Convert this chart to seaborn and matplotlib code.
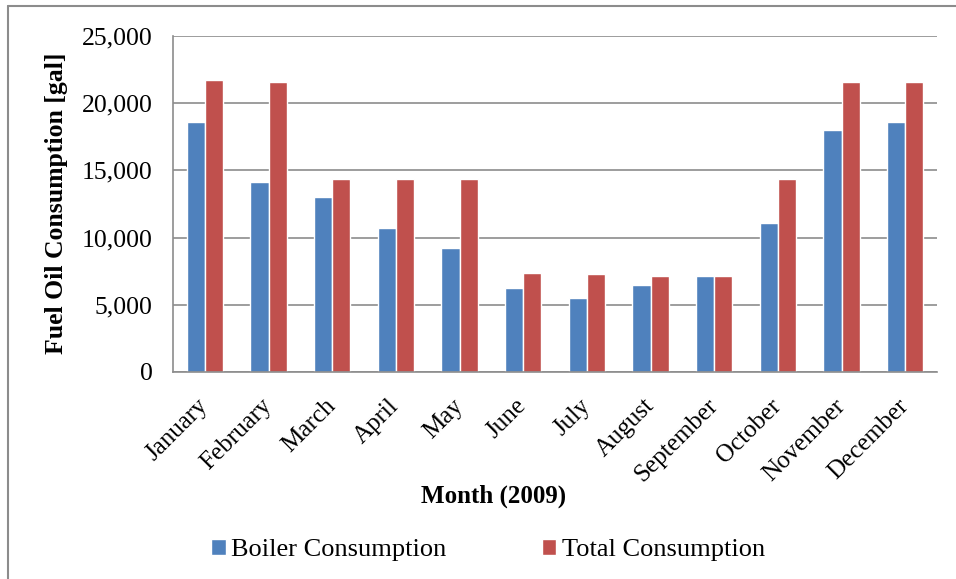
import matplotlib
matplotlib.use("Agg")
import matplotlib.pyplot as plt
import seaborn as sns
import pandas as pd
from matplotlib.lines import Line2D
from matplotlib.ticker import FuncFormatter

months = ["January", "February", "March", "April", "May", "June",
          "July", "August", "September", "October", "November", "December"]
boiler = [18600, 14100, 13000, 10750, 9260, 6260, 5540, 6460, 7150, 11120, 17970, 18600]
total = [21700, 21600, 14350, 14350, 14350, 7350, 7300, 7150, 7150, 14350, 21600, 21600]
series_names = ["Boiler Consumption", "Total Consumption"]
colors = ["#4F81BD", "#C0504D"]

df = pd.DataFrame({
    "Month": months * 2,
    "Value": boiler + total,
    "Series": [series_names[0]] * len(months) + [series_names[1]] * len(months),
})

sns.set_style("white")
plt.rcParams["font.family"] = ["Liberation Serif", "DejaVu Serif"]
plt.rcParams["text.color"] = "black"
plt.rcParams["axes.labelcolor"] = "black"
plt.rcParams["xtick.color"] = "black"
plt.rcParams["ytick.color"] = "black"

W, H = 956, 579
fig = plt.figure(figsize=(W / 100, H / 100), dpi=100)
ax = fig.add_axes([173 / W, 1 - 372 / H, (937 - 173) / W, (372 - 36) / H])

sns.barplot(data=df, x="Month", y="Value", hue="Series", order=months,
            hue_order=series_names, palette=colors, width=0.57,
            saturation=1, ax=ax, legend=True)

grey = "#8C8C8C"
ax.set_ylim(0, 25000)
ax.set_yticks(range(0, 25001, 5000))
ax.yaxis.set_major_formatter(FuncFormatter(lambda v, p: f"{int(v):,}"))
ax.grid(axis="y", color=grey, linewidth=1.2)
ax.set_axisbelow(True)
for s in ["top", "right"]:
    ax.spines[s].set_visible(False)
for s in ["left", "bottom"]:
    ax.spines[s].set_color(grey)
    ax.spines[s].set_linewidth(1.2)

ax.tick_params(axis="y", labelsize=18.5, length=4.5, width=1.2, color=grey,
               direction="out", pad=10, labelcolor="black")
ax.tick_params(axis="x", labelsize=18, length=0, pad=22, labelcolor="black")
plt.setp(ax.get_xticklabels(), rotation=45, ha="right", va="center",
         rotation_mode="anchor")

ax.set_xlabel("Month (2009)", fontsize=18, fontweight="bold")
ax.xaxis.set_label_coords(0.419, -0.369)
ax.xaxis.label.set_va("center")
ax.set_ylabel("Fuel Oil Consumption [gal]", fontsize=18.5, fontweight="bold")
ax.yaxis.set_label_coords(-0.152, 0.503)
ax.yaxis.label.set_va("center")

handles, labels = ax.get_legend_handles_labels()
ax.legend_.remove()
fig.legend(handles, labels, loc="center", bbox_to_anchor=(488 / W, 1 - 550 / H),
           ncol=2, frameon=False, fontsize=19, handlelength=0.55, handleheight=0.55,
           handletextpad=0.22, columnspacing=3.6)

# chart-area frame (left and top edges)
fig.add_artist(Line2D([8 / W, 8 / W], [0, 1 - 6 / H], transform=fig.transFigure,
                      color=grey, linewidth=1.5))
fig.add_artist(Line2D([8 / W, 1], [1 - 6 / H, 1 - 6 / H], transform=fig.transFigure,
                      color=grey, linewidth=1.5))

fig.savefig("out.png", dpi=100)
